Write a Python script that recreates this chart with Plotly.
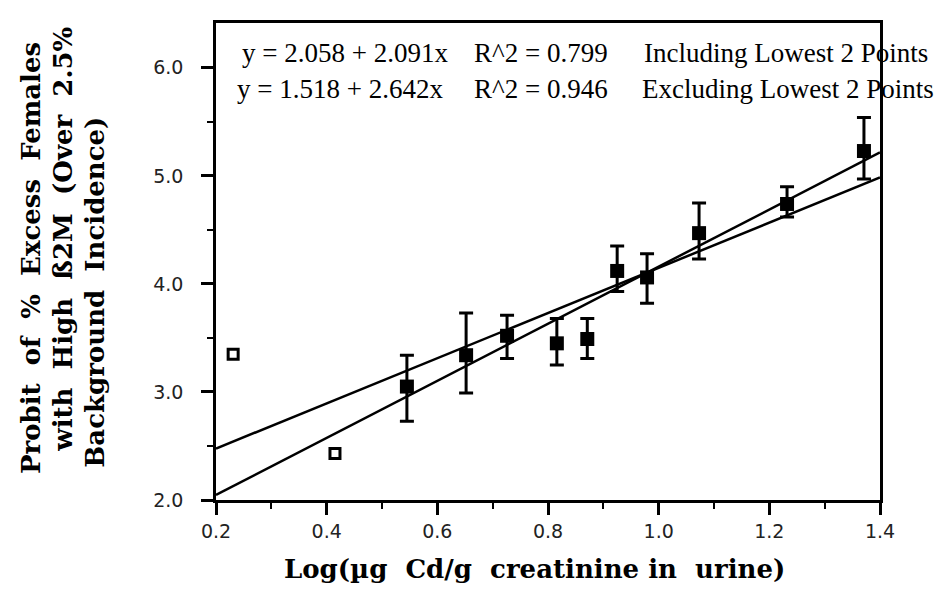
import plotly.graph_objects as go

# ---- data ----
x_filled = [0.545, 0.652, 0.726, 0.816, 0.871, 0.925, 0.979, 1.073, 1.232, 1.371]
y_filled = [3.05, 3.34, 3.52, 3.45, 3.49, 4.12, 4.06, 4.47, 4.74, 5.23]
y_upper = [3.34, 3.73, 3.71, 3.68, 3.68, 4.35, 4.28, 4.75, 4.90, 5.54]
y_lower = [2.73, 2.99, 3.31, 3.25, 3.31, 3.93, 3.82, 4.23, 4.62, 4.97]

x_open = [0.231, 0.415]
y_open = [3.35, 2.43]

fit_intercepts = [2.058, 1.518]
fit_slopes = [2.091, 2.642]
fit_r2 = ["0.799", "0.946"]
fit_labels = ["Including Lowest 2 Points", "Excluding Lowest 2 Points"]
fit_x = [0.2, 1.4]

x_ticks = [0.2, 0.4, 0.6, 0.8, 1.0, 1.2, 1.4]
x_ticklabels = ["0.2", "0.4", "0.6", "0.8", "1.0", "1.2", "1.4"]
y_ticks = [2.0, 3.0, 4.0, 5.0, 6.0]
y_ticklabels = ["2.0", "3.0", "4.0", "5.0", "6.0"]

# ---- figure ----
W, H = 949, 592
ML, MR, MT, MB = 208, 77, 13, 100

fig = go.Figure()

for a, b in zip(fit_intercepts, fit_slopes):
    fig.add_trace(go.Scatter(
        x=fit_x, y=[a + b * v for v in fit_x], mode="lines",
        line=dict(color="black", width=2.5), showlegend=False, hoverinfo="skip"))

fig.add_trace(go.Scatter(
    x=x_filled, y=y_filled, mode="markers",
    marker=dict(symbol="square", size=14, color="black"),
    error_y=dict(type="data", symmetric=False,
                 array=[u - y for u, y in zip(y_upper, y_filled)],
                 arrayminus=[y - l for l, y in zip(y_lower, y_filled)],
                 color="black", thickness=3, width=7),
    showlegend=False))

fig.add_trace(go.Scatter(
    x=x_open, y=y_open, mode="markers",
    marker=dict(symbol="square", size=10, color="white",
                line=dict(color="black", width=3)),
    showlegend=False))

NB = "\u00a0"
serif = "Liberation Serif"
eq_font = dict(family=serif, size=27, color="black")
eq_rows = [(6.14, 0.244, 0.663, 0.970), (5.80, 0.235, 0.663, 0.967)]
for i, (yy, xe, xr, xl) in enumerate(eq_rows):
    eq = "y = %.3f + %.3fx" % (fit_intercepts[i], fit_slopes[i])
    for xx, txt in [(xe, eq), (xr, "R^2 = " + fit_r2[i]), (xl, fit_labels[i])]:
        fig.add_annotation(x=xx, y=yy, xref="x", yref="y", text=txt,
                           showarrow=False, xanchor="left", yanchor="middle",
                           font=eq_font)

def px_x(p):
    return (p - ML) / (W - ML - MR)

def px_y(p):
    return (H - MB - p) / (H - MT - MB)

def widen(s, n):
    return s.replace(" ", NB * n)

title_font = dict(family="DejaVu Serif", size=26, color="black")
ytitle_lines = [widen("Probit of % Excess Females", 2),
                widen("with High ß2M (Over 2.5%", 2),
                "Background" + NB * 2 + "Incidence)"]
ytitle_cols = [23, 55, 87]
ytitle_bottoms = [468, 446, 462]
for txt, cx, by in zip(ytitle_lines, ytitle_cols, ytitle_bottoms):
    fig.add_annotation(x=px_x(cx), y=px_y(by), xref="paper", yref="paper",
                       text="<b>" + txt + "</b>", showarrow=False, textangle=-90,
                       xanchor="center", yanchor="bottom", font=title_font)

xtitle = "Log(µg" + NB * 2 + "Cd/g" + NB * 2 + "creatinine" + NB + "in" + NB * 2 + "urine)"
fig.add_annotation(x=px_x(526), y=px_y(561), xref="paper", yref="paper",
                   text="<b>" + xtitle + "</b>",
                   showarrow=False, xanchor="center", yanchor="middle", font=title_font)

tick_font = dict(family="DejaVu Sans", size=19, color="#222")
fig.update_xaxes(range=[0.2, 1.4], tickmode="array", tickvals=x_ticks,
                 ticktext=x_ticklabels, ticks="outside", ticklen=12, tickwidth=2.5,
                 tickcolor="black", showline=True, linecolor="black", linewidth=2.5,
                 mirror=True, showgrid=False, zeroline=False, tickfont=tick_font,
                 ticklabelstandoff=0,
                 minor=dict(dtick=0.1, tick0=0.2, ticks="outside", ticklen=6,
                            tickwidth=2, tickcolor="black", showgrid=False))
fig.update_yaxes(range=[2.0, 6.415], tickmode="array", tickvals=y_ticks,
                 ticktext=y_ticklabels, ticks="outside", ticklen=12, tickwidth=2.5,
                 tickcolor="black", showline=True, linecolor="black", linewidth=2.5,
                 mirror=True, showgrid=False, zeroline=False, tickfont=tick_font,
                 ticklabelstandoff=14,
                 minor=dict(dtick=0.5, tick0=2.0, ticks="outside", ticklen=6,
                            tickwidth=2, tickcolor="black", showgrid=False))

fig.update_layout(width=W, height=H, margin=dict(l=ML, r=MR, t=MT, b=MB),
                  plot_bgcolor="white", paper_bgcolor="white", showlegend=False)

fig.write_html("out.html")
